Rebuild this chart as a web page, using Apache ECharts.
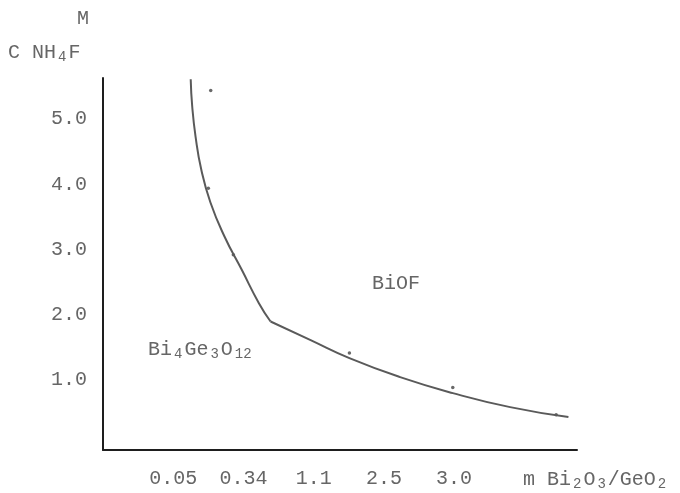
<!DOCTYPE html>
<html>
<head>
<meta charset="utf-8">
<script src="https://cdn.jsdelivr.net/npm/echarts@6/dist/echarts.min.js"></script>
<style>
  html, body { margin: 0; padding: 0; background: #ffffff; }
  #chart { width: 680px; height: 493px; }
</style>
</head>
<body>
<div id="chart"></div>
<script>
// Ordinal slots along the abscissa and the ratio printed under each one
const xSlots = [1, 2, 3, 4, 5];
const xTickLabels = ['0.05', '0.34', '1.1', '2.5', '3.0'];
const yTickValues = [1, 2, 3, 4, 5];

// Phase boundary, steep branch (slot, C NH4F in M)
const boundarySteep = [
  [1.249, 5.612], [1.270, 5.200], [1.318, 4.732], [1.400, 4.221],
  [1.530, 3.720], [1.730, 3.198], [1.976, 2.687], [2.220, 2.176],
  [2.386, 1.894]
];
// Phase boundary, flat branch
const boundaryFlat = [
  [2.386, 1.894], [2.949, 1.613], [3.509, 1.333], [4.231, 1.041],
  [4.981, 0.796], [5.798, 0.581], [6.628, 0.428]
];
// Experimental points
const measured = [
  [1.534, 5.437], [1.500, 3.940], [1.856, 2.917],
  [3.509, 1.410], [4.981, 0.882], [6.453, 0.463]
];

const FONT = '"Liberation Mono", "DejaVu Sans Mono", monospace';
const TEXT = '#666666';
const INK = '#5a5a5a';

// plain characters and lowered subscript digits for chemical formulas
const richFormula = {
  n: { fontFamily: FONT, fontSize: 20, lineHeight: 22, fill: TEXT },
  s: { fontFamily: FONT, fontSize: 14, lineHeight: 14, fill: TEXT,
       verticalAlign: 'bottom', padding: [0, 2, 0, 2] }
};

function formula(x, y, text) {
  return {
    type: 'text', x: x, y: y,
    style: { text: text, rich: richFormula, fill: TEXT, align: 'left', verticalAlign: 'middle' }
  };
}

const chart = echarts.init(document.getElementById('chart'), null, { renderer: 'canvas' });

chart.setOption({
  backgroundColor: '#ffffff',
  animation: false,
  grid: { left: 103, right: 103, top: 78, bottom: 43, containLabel: false },
  xAxis: {
    type: 'value',
    min: 0,
    max: 6.75,
    axisLine: { show: true, onZero: false, lineStyle: { color: '#1e1e1e', width: 2 } },
    axisTick: { show: false },
    splitLine: { show: false },
    axisLabel: {
      customValues: xSlots,
      margin: 19,
      color: TEXT,
      fontFamily: FONT,
      fontSize: 20,
      formatter: v => xTickLabels[xSlots.indexOf(v)] || ''
    }
  },
  yAxis: {
    type: 'value',
    min: -0.077,
    max: 5.63,
    axisLine: { show: true, onZero: false, lineStyle: { color: '#1e1e1e', width: 2 } },
    axisTick: { show: false },
    splitLine: { show: false },
    axisLabel: {
      customValues: yTickValues,
      margin: 16,
      color: TEXT,
      fontFamily: FONT,
      fontSize: 20,
      formatter: v => v.toFixed(1)
    }
  },
  series: [
    {
      name: 'boundary steep',
      type: 'line',
      data: boundarySteep,
      smooth: 0.5,
      symbol: 'none',
      lineStyle: { color: INK, width: 2 }
    },
    {
      name: 'boundary flat',
      type: 'line',
      data: boundaryFlat,
      smooth: 0.5,
      symbol: 'none',
      lineStyle: { color: INK, width: 2 }
    },
    {
      name: 'measured',
      type: 'scatter',
      data: measured,
      symbol: 'circle',
      symbolSize: 3.5,
      itemStyle: { color: '#444444' }
    }
  ],
  graphic: [
    { type: 'text', x: 83, y: 19, style: { text: 'M', fill: TEXT, font: '20px ' + FONT, align: 'center', verticalAlign: 'middle' } },
    formula(8, 53, '{n|C NH}{s|4}{n|F}'),
    formula(148, 350, '{n|Bi}{s|4}{n|Ge}{s|3}{n|O}{s|12}'),
    { type: 'text', x: 372, y: 284, style: { text: 'BiOF', fill: TEXT, font: '20px ' + FONT, align: 'left', verticalAlign: 'middle' } },
    formula(523, 480, '{n|m Bi}{s|2}{n|O}{s|3}{n|/GeO}{s|2}')
  ]
});
</script>
</body>
</html>
